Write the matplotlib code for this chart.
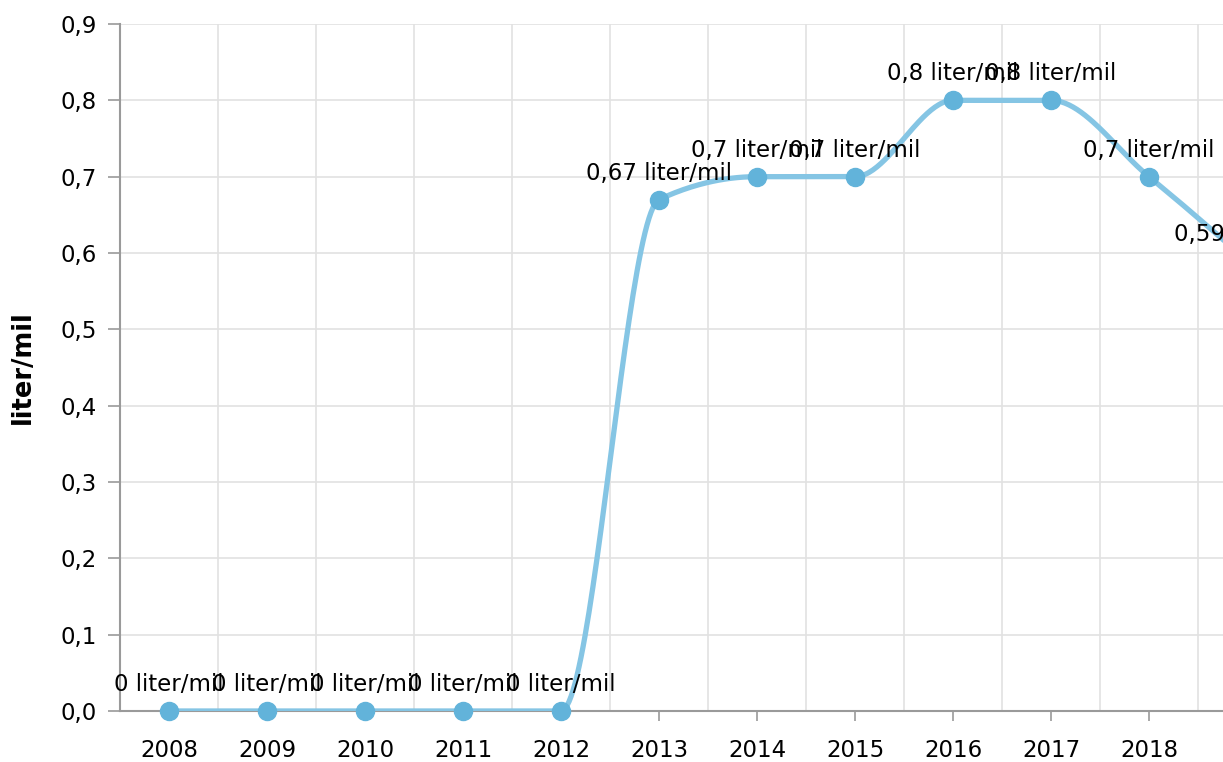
import numpy as np
import matplotlib
matplotlib.use('Agg')
import matplotlib.pyplot as plt

years = ['2008', '2009', '2010', '2011', '2012', '2013', '2014', '2015', '2016', '2017', '2018', '2019']
values = [0, 0, 0, 0, 0, 0.67, 0.7, 0.7, 0.8, 0.8, 0.7, 0.59]
unit = 'liter/mil'
y_ticks = [0, 0.1, 0.2, 0.3, 0.4, 0.5, 0.6, 0.7, 0.8, 0.9]

LINE = '#85c5e4'
DOT = '#62b3da'
GRID = '#e2e2e2'
AXIS = '#9a9a9a'

plt.rcParams['font.family'] = ['DejaVu Sans']


def monotone(xs, ys, n=50):
    # monotone cubic like d3.curveMonotoneX
    xs = np.asarray(xs, float)
    ys = np.asarray(ys, float)
    h = np.diff(xs)
    s = np.diff(ys) / h
    sgn = lambda v: -1.0 if v < 0 else 1.0
    m = np.zeros(len(xs))
    for i in range(1, len(xs) - 1):
        p = (s[i - 1] * h[i] + s[i] * h[i - 1]) / (h[i - 1] + h[i])
        m[i] = (sgn(s[i - 1]) + sgn(s[i])) * min(abs(s[i - 1]), abs(s[i]), 0.5 * abs(p))
    m[0] = (3 * s[0] - m[1]) / 2
    m[-1] = (3 * s[-1] - m[-2]) / 2
    t = np.linspace(0, 1, n)
    px, py = [], []
    for i in range(len(xs) - 1):
        dx = h[i] / 3
        P = [(xs[i], ys[i]), (xs[i] + dx, ys[i] + dx * m[i]),
             (xs[i + 1] - dx, ys[i + 1] - dx * m[i + 1]), (xs[i + 1], ys[i + 1])]
        b = [(1 - t) ** 3, 3 * (1 - t) ** 2 * t, 3 * (1 - t) * t ** 2, t ** 3]
        px.append(sum(b[k] * P[k][0] for k in range(4)))
        py.append(sum(b[k] * P[k][1] for k in range(4)))
    return np.concatenate(px), np.concatenate(py)


W, H = 1223, 762
fig = plt.figure(figsize=(W / 100, H / 100), dpi=100)
ax = fig.add_axes([120 / W, 51 / H, 12 * 98 / W, 687 / H])

x = np.arange(len(years))
ax.set_xlim(-0.5, len(years) - 0.5)
ax.set_ylim(0, 0.9)

cx, cy = monotone(x, values)
ax.plot(cx, cy, color=LINE, lw=3.8, solid_capstyle='round', zorder=3)
ax.plot(x, values, 'o', color=DOT, ms=13, zorder=4, clip_on=False)

for xi, v in zip(x, values):
    lab = f'{v:g}'.replace('.', ',') + ' ' + unit
    ax.annotate(lab, (xi, v), xytext=(0, 14.4), textcoords='offset points',
                ha='center', va='baseline', fontsize=16.5, zorder=5)

ax.set_yticks(y_ticks)
ax.set_yticklabels([f'{t:.1f}'.replace('.', ',') for t in y_ticks])
ax.set_xticks(x)
# the last year sits past the right edge of the picture, its label is not shown
ax.set_xticklabels(years[:-1] + [''])
ax.set_xticks(x[:-1] + 0.5, minor=True)

ax.grid(True, which='major', axis='y', color=GRID, lw=1.2)
ax.grid(True, which='minor', axis='x', color=GRID, lw=1.2)
ax.set_axisbelow(True)

ax.tick_params(axis='y', length=8.6, width=1.2, color=AXIS, pad=8, labelsize=16.5)
ax.tick_params(axis='x', which='major', length=7, width=1.2, color=AXIS, pad=13, labelsize=16.5)
ax.tick_params(axis='x', which='minor', length=0)

for s in ['top', 'right']:
    ax.spines[s].set_visible(False)
for s in ['left', 'bottom']:
    ax.spines[s].set_color(AXIS)
    ax.spines[s].set_linewidth(1.5)

ax.set_ylabel(unit, fontsize=18.5, fontweight='bold')
ax.yaxis.set_label_coords(-84 / (12 * 98), 0.5)

fig.savefig('out.png', dpi=100)
